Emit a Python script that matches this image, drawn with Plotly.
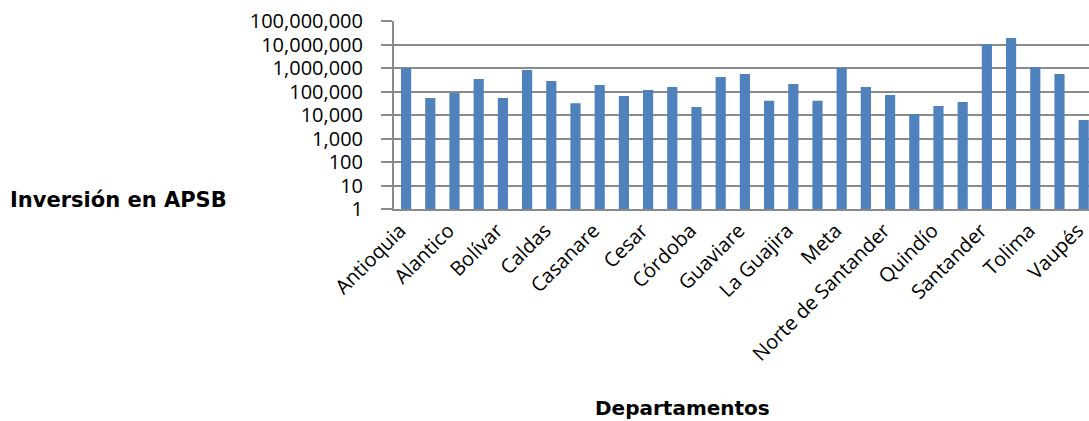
import plotly.graph_objects as go

# Departamentos (orden del eje) e inversión en APSB
departamentos = [
    "Antioquia", "Arauca", "Alantico", "Bogotá", "Bolívar", "Boyacá",
    "Caldas", "Caquetá", "Casanare", "Cauca", "Cesar", "Chocó",
    "Córdoba", "Cundinamarca", "Guaviare", "Huila", "La Guajira",
    "Magdalena", "Meta", "Nariño", "Norte de Santander", "Putumayo",
    "Quindío", "Risaralda", "Santander", "Sucre", "Tolima",
    "Valle del Cauca", "Vaupés",
]
inversion = [
    1000000, 53000, 87000, 340000, 53000, 820000,
    280000, 32000, 189000, 64000, 116000, 156000,
    22000, 414000, 556000, 40000, 209000,
    40000, 1000000, 156000, 71000, 11000,
    24000, 35700, 10500000, 19000000, 1100000,
    556000, 6100,
]
# Etiquetas visibles del eje x (una de cada dos categorías)
etiquetas_x = departamentos[::2]
ticks_y = [1, 10, 100, 1000, 10000, 100000, 1000000, 10000000, 100000000]
textos_y = [f"{v:,}" for v in ticks_y]

fig = go.Figure(
    go.Bar(
        x=departamentos,
        y=inversion,
        marker=dict(color="#4f81bd", line=dict(width=0)),
    )
)

grid = "#8a8a8a"
W, H = 1089, 421
ML, MR, MT, MB = 394, 0, 21, 212
fig.update_layout(
    width=W,
    height=H,
    margin=dict(l=ML, r=MR, t=MT, b=MB, autoexpand=False),
    paper_bgcolor="white",
    plot_bgcolor="white",
    bargap=0.58,
    showlegend=False,
    font=dict(family="Open Sans", size=20, color="black"),
)
fig.update_xaxes(
    type="category",
    automargin=False,
    range=[-0.5, 28.22],
    tickmode="array",
    tickvals=etiquetas_x,
    ticktext=etiquetas_x,
    tickangle=-45,
    ticklabelshift=-6,
    showgrid=False,
    showline=True,
    linecolor=grid,
    linewidth=2,
    ticks="",
    tickfont=dict(family="Open Sans", size=20, color="black"),
)
fig.update_yaxes(
    type="log",
    automargin=False,
    range=[0, 8],
    tickmode="array",
    tickvals=ticks_y,
    ticktext=textos_y,
    showgrid=True,
    gridcolor=grid,
    gridwidth=2,
    showline=True,
    linecolor=grid,
    linewidth=2,
    ticks="outside",
    ticklen=11,
    tickwidth=2,
    tickcolor=grid,
    ticklabelstandoff=14,
    zeroline=False,
    tickfont=dict(family="Open Sans", size=20, color="black"),
)

pw, ph = W - ML - MR, H - MT - MB
fig.add_annotation(
    text="Inversión en APSB",
    xref="paper", yref="paper",
    x=(8 - ML) / pw, y=(H - MB - 200) / ph,
    xanchor="left", yanchor="middle",
    showarrow=False,
    font=dict(family="DejaVu Sans", size=21, color="black", weight="bold"),
)
fig.add_annotation(
    text="Departamentos",
    xref="paper", yref="paper",
    x=(682 - ML) / pw, y=(H - MB - 408) / ph,
    xanchor="center", yanchor="middle",
    showarrow=False,
    font=dict(family="DejaVu Sans", size=20, color="black", weight="bold"),
)

fig.write_html("out.html")
